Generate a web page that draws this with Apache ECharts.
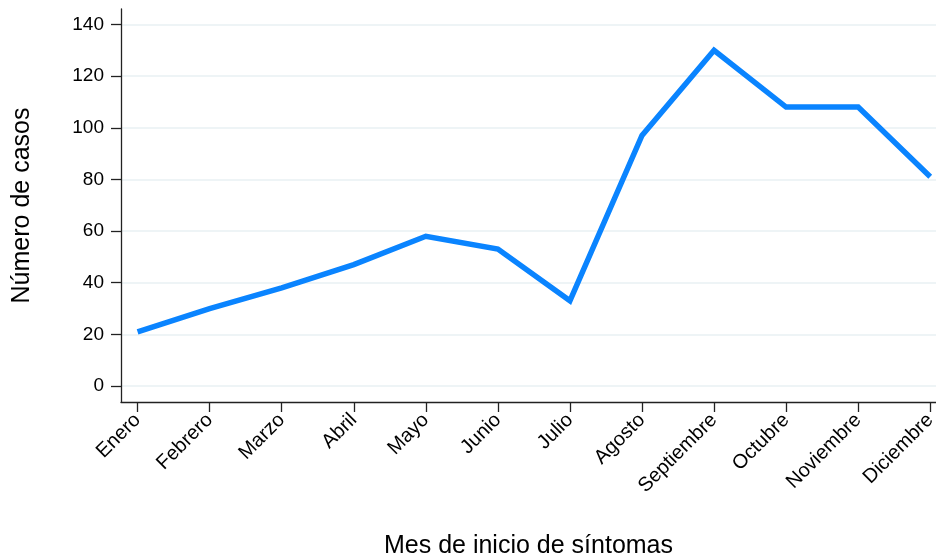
<!DOCTYPE html>
<html>
<head>
<meta charset="utf-8">
<script src="https://cdn.jsdelivr.net/npm/echarts@6/dist/echarts.min.js"></script>
<style>
  html, body { margin: 0; padding: 0; background: #fff; }
  #chart { width: 936px; height: 558px; }
</style>
</head>
<body>
<div id="chart"></div>
<script>
// meses y casos por mes de inicio de síntomas
const meses = ['Enero', 'Febrero', 'Marzo', 'Abril', 'Mayo', 'Junio', 'Julio',
    'Agosto', 'Septiembre', 'Octubre', 'Noviembre', 'Diciembre'];
const casos = [21, 30, 38, 47, 58, 53, 33, 97, 130, 108, 108, 81];
const yTicks = [0, 20, 40, 60, 80, 100, 120, 140];

const chart = echarts.init(document.getElementById('chart'));
const fuente = '"Liberation Sans", Arial, sans-serif';
const ejeColor = '#222';

const option = {
    animation: false,
    backgroundColor: '#fff',
    grid: { left: 121, right: 0, top: 9, bottom: 156, outerBoundsMode: 'none', containLabel: false },
    xAxis: {
        type: 'value',
        min: -0.23,
        max: 11.08,
        name: 'Mes de inicio de síntomas',
        nameLocation: 'middle',
        nameGap: 132,
        nameTextStyle: { fontFamily: fuente, fontSize: 25, color: '#000' },
        axisLine: { show: true, onZero: false, lineStyle: { color: ejeColor, width: 1.3 } },
        axisTick: { show: true, length: 10, lineStyle: { color: ejeColor, width: 1.3 },
            customValues: meses.map((m, i) => i) },
        axisLabel: {
            customValues: meses.map((m, i) => i),
            formatter: v => meses[Math.round(v)],
            rotate: 45, fontFamily: fuente, fontSize: 20, color: '#000', margin: 15
        },
        splitLine: { show: false }
    },
    yAxis: {
        type: 'value',
        min: -6.2,
        max: 146,
        name: 'Número de casos',
        nameLocation: 'middle',
        nameGap: 86,
        nameTextStyle: { fontFamily: fuente, fontSize: 25, color: '#000' },
        axisLine: { show: true, onZero: false, lineStyle: { color: ejeColor, width: 1.3 } },
        axisTick: { show: true, length: 10, lineStyle: { color: ejeColor, width: 1.3 },
            customValues: yTicks },
        axisLabel: {
            customValues: yTicks,
            fontFamily: fuente, fontSize: 19, color: '#000', margin: 17
        },
        splitLine: { show: true, lineStyle: { color: '#e8f1f3', width: 1.5 } }
    },
    series: [{
        type: 'line',
        data: casos.map((v, i) => [i, v]),
        symbol: 'none',
        lineStyle: { color: '#0a84ff', width: 5.5, join: 'miter' },
        z: 3
    }]
};

chart.setOption(option);
</script>
</body>
</html>
